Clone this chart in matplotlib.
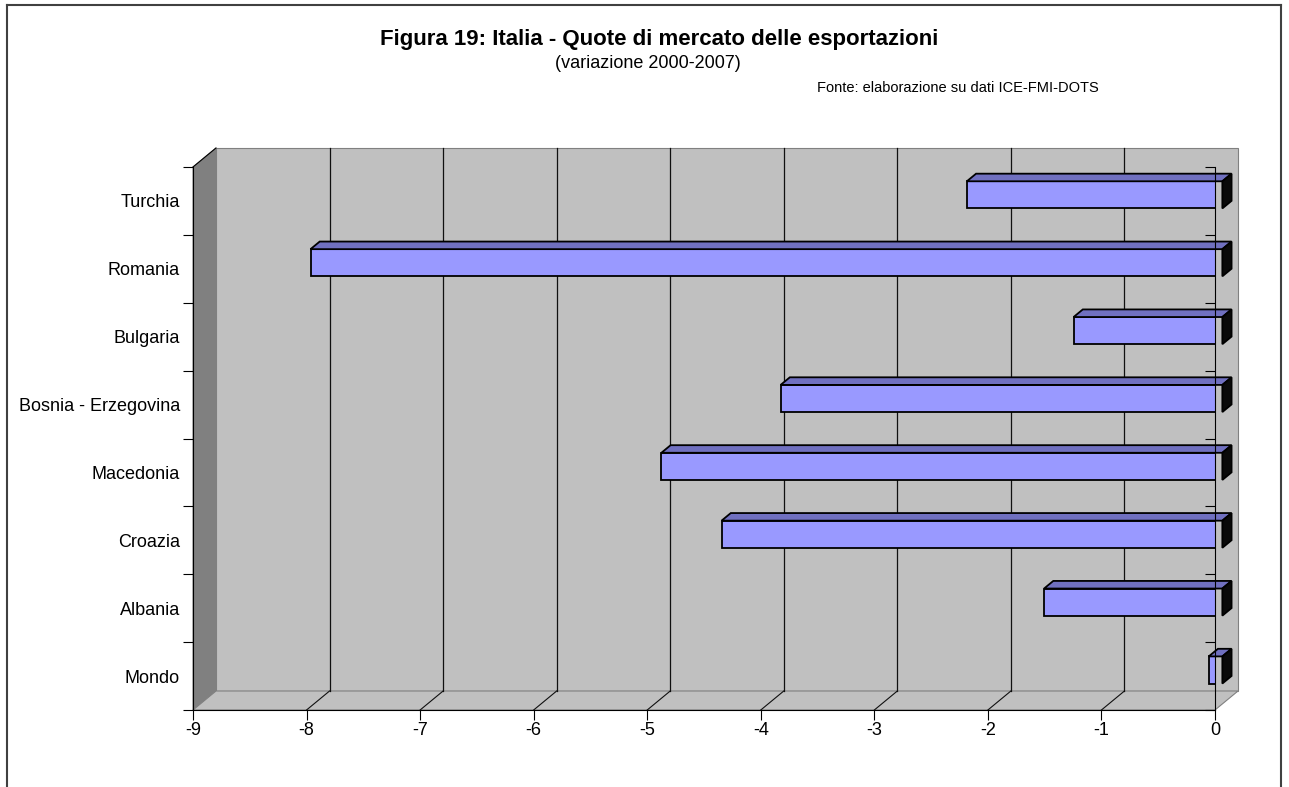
import matplotlib
matplotlib.use("Agg")
import matplotlib.pyplot as plt
import numpy as np
from matplotlib.patches import Polygon, Rectangle
from matplotlib.lines import Line2D
from matplotlib.transforms import ScaledTranslation, IdentityTransform

plt.rcParams['font.family'] = ['Liberation Sans', 'DejaVu Sans']
plt.rcParams['axes.unicode_minus'] = False

# Data (bottom to top)
categories = ["Mondo", "Albania", "Croazia", "Macedonia",
              "Bosnia - Erzegovina", "Bulgaria", "Romania", "Turchia"]
variazione = [-0.12, -1.57, -4.41, -4.94, -3.89, -1.31, -8.03, -2.25]
x_ticks = list(range(-9, 1))

title = "Figura 19: Italia - Quote di mercato delle esportazioni"
subtitle = "(variazione 2000-2007)"
source = "Fonte: elaborazione su dati ICE-FMI-DOTS"

W, H, DPI = 1289, 787, 100
fig = plt.figure(figsize=(W / DPI, H / DPI), dpi=DPI)
fig.patch.set_facecolor('white')

# front plane of the plot box, in pixels
L, R, T, B = 193, 1215, 167, 710
ax = fig.add_axes([L / W, 1 - B / H, (R - L) / W, (B - T) / H])
ax.set_xlim(x_ticks[0], x_ticks[-1])
ax.set_ylim(0, len(categories))
ax.set_autoscale_on(False)
ax.patch.set_visible(False)

# depth of the pseudo-3D box (pixels at full depth)
DX, DY = 23, 19
D1, D2 = 0.32, 0.72   # front / back depth of the bars


def off(d):
    return ax.transData + ScaledTranslation(d * DX / DPI, d * DY / DPI,
                                            fig.dpi_scale_trans)


def P(x, y, d):
    px, py = ax.transData.transform((x, y))
    return (px + d * DX, py + d * DY)


def poly(pts, fc, ec, lw=0.8, z=1):
    ax.add_patch(Polygon(pts, closed=True, transform=IdentityTransform(),
                         facecolor=fc, edgecolor=ec, linewidth=lw,
                         clip_on=False, zorder=z))


def seg(p0, p1, color, lw=0.8, z=1.6):
    ax.add_line(Line2D([p0[0], p1[0]], [p0[1], p1[1]],
                       transform=IdentityTransform(), color=color,
                       linewidth=lw, clip_on=False, zorder=z))


xmin, xmax = x_ticks[0], x_ticks[-1]
ntop = len(categories)

# back wall
ax.add_patch(Rectangle((xmin, 0), xmax - xmin, ntop, transform=off(1),
                       facecolor='#c0c0c0', edgecolor='#808080',
                       linewidth=0.8, clip_on=False, zorder=1))
# left wall
poly([P(xmin, 0, 0), P(xmin, ntop, 0), P(xmin, ntop, 1), P(xmin, 0, 1)],
     '#808080', '#808080', z=1.1)
seg(P(xmin, ntop, 0), P(xmin, ntop, 1), 'black', z=1.2)
# floor
poly([P(xmin, 0, 0), P(xmax, 0, 0), P(xmax, 0, 1), P(xmin, 0, 1)],
     '#c0c0c0', '#808080', z=1.2)

# gridlines on back wall and their floor continuation
for x in x_ticks[1:-1]:
    ax.plot([x, x], [0, ntop], transform=off(1), color='#101010',
            linewidth=0.9, zorder=1.5, clip_on=False)
    seg(P(x, 0, 0), P(x, 0, 1), '#101010')

# bars: front faces
ypos = np.arange(ntop) + 0.5
hh = 0.2
ax.barh(ypos, variazione, height=2 * hh, left=0, transform=off(D1),
        color='#9999ff', edgecolor='black', linewidth=1.3, zorder=3)
for y, v in zip(ypos, variazione):
    # top face
    poly([P(v, y + hh, D1), P(0, y + hh, D1), P(0, y + hh, D2), P(v, y + hh, D2)],
         '#7070c0', 'black', lw=1.3, z=3.1)
    # end face
    poly([P(0, y - hh, D1), P(0, y + hh, D1), P(0, y + hh, D2), P(0, y - hh, D2)],
         '#0a0a0a', 'black', lw=1.3, z=3.2)

# axes lines and ticks
for s in ['top', 'right']:
    ax.spines[s].set_visible(False)
for s in ['left', 'bottom']:
    ax.spines[s].set_color('black')
    ax.spines[s].set_linewidth(0.8)
    ax.spines[s].set_zorder(4)

ax.set_xticks(x_ticks)
ax.set_xticklabels([str(t) for t in x_ticks])
ax.tick_params(axis='x', direction='out', length=7.2, width=0.8,
               labelsize=13, pad=1.5)
ax.set_yticks(np.arange(ntop + 1))
ax.set_yticklabels([])
ax.set_yticks(ypos, minor=True)
ax.set_yticklabels(categories, minor=True)
ax.tick_params(axis='y', which='major', direction='out', length=7.2, width=0.8)
ax.tick_params(axis='y', which='minor', length=0, pad=9.4, labelsize=13)

# zero axis with its ticks
ax.plot([0, 0], [0, ntop], color='black', linewidth=0.8, zorder=6,
        clip_on=False)
ax.plot([0] * (ntop + 1), np.arange(ntop + 1), linestyle='none', marker=0,
        markersize=7.2, markeredgewidth=0.8, color='black', zorder=6,
        clip_on=False)

# titles
fig.text(659.5 / W, 1 - 40 / H, title, ha='center', va='center',
         fontsize=16, fontweight='bold')
fig.text(648 / W, 1 - 64 / H, subtitle, ha='center', va='center', fontsize=13)
fig.text(817 / W, 1 - 88 / H, source, ha='left', va='center', fontsize=10.5)

# outer chart frame
fc = '#404040'
fig.add_artist(Line2D([7 / W, 7 / W], [0, 1 - 5 / H], transform=fig.transFigure,
                      color=fc, linewidth=1.5))
fig.add_artist(Line2D([7 / W, 1281 / W], [1 - 5 / H, 1 - 5 / H],
                      transform=fig.transFigure, color=fc, linewidth=1.5))
fig.add_artist(Line2D([1281 / W, 1281 / W], [0, 1 - 5 / H],
                      transform=fig.transFigure, color=fc, linewidth=1.5))

fig.savefig("out.png", dpi=DPI)
